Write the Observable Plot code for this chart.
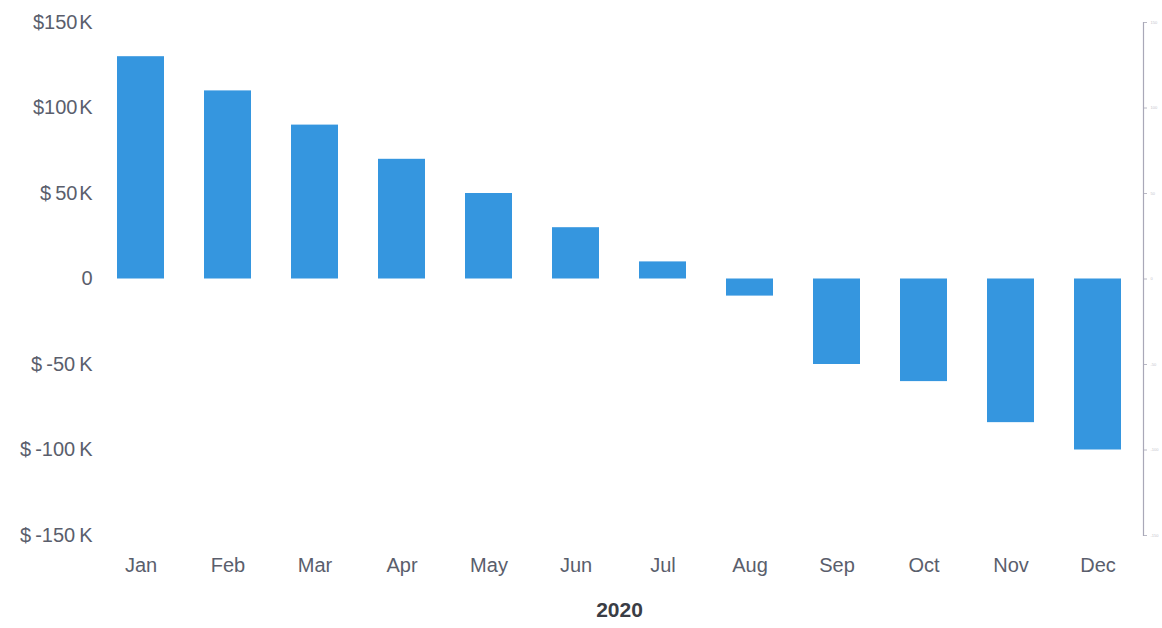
<!DOCTYPE html>
<html>
<head>
<meta charset="utf-8">
<script src="https://cdn.jsdelivr.net/npm/d3@7"></script>
<script src="https://cdn.jsdelivr.net/npm/@observablehq/plot@0.6"></script>
<style>
  html, body { margin: 0; padding: 0; background: #fff; }
  #chart svg { display: block; }
</style>
</head>
<body>
<div id="chart"></div>
<script>
const months = ["Jan","Feb","Mar","Apr","May","Jun","Jul","Aug","Sep","Oct","Nov","Dec"];
const values = [130000, 110000, 90000, 70000, 50000, 30000, 10000, -10000, -50000, -60000, -84000, -100000];
const yTicks = [-150000, -100000, -50000, 0, 50000, 100000, 150000];
const yTickLabels = ["$\u2009-150\u2009K", "$\u2009-100\u2009K", "$\u2009-50\u2009K", "0", "$\u200950\u200AK", "$100\u200AK", "$150\u200AK"];
const rightTickLabels = ["-150", "-100", "-50", "0", "50", "100", "150"];
const xTitle = "2020";

const data = months.map((m, i) => ({month: m, value: values[i]}));
const fmtLeft = v => yTickLabels[yTicks.indexOf(v)];
const fmtRight = v => rightTickLabels[yTicks.indexOf(v)];

const chart = Plot.plot({
  width: 1162,
  height: 628,
  marginTop: 22,
  marginBottom: 93,
  marginLeft: 95,
  marginRight: 19,
  style: {fontFamily: "'Liberation Sans', Arial, sans-serif", background: "#fff"},
  x: {domain: months, paddingInner: 0.46, paddingOuter: 0.25, label: null},
  y: {domain: [-150000, 150000], label: null},
  marks: [
    Plot.barY(data, {x: "month", y: "value", fill: "#3596df"}),
    Plot.frame({anchor: "right", stroke: "#a9a8b8", strokeWidth: 1.2}),
    Plot.axisY({anchor: "left", ticks: yTicks, tickFormat: fmtLeft, tickSize: 0, tickPadding: 3,
      fontSize: 20, fill: "#5a5e6c", label: null}),
    Plot.axisY({anchor: "right", ticks: yTicks, tickFormat: fmtRight, tickSize: 3, tickPadding: 4,
      fontSize: 4, fill: "#c4c4cc", stroke: "#b8b8c4", label: null}),
    Plot.axisX({anchor: "bottom", tickSize: 0, tickPadding: 22, fontSize: 20, fill: "#5a5e6c", label: null}),
    Plot.text([xTitle], {text: d => d, frameAnchor: "bottom", dy: 81, fontSize: 21, fontWeight: "bold", fill: "#3a3d45"})
  ]
});
document.getElementById("chart").appendChild(chart);
</script>
</body>
</html>
